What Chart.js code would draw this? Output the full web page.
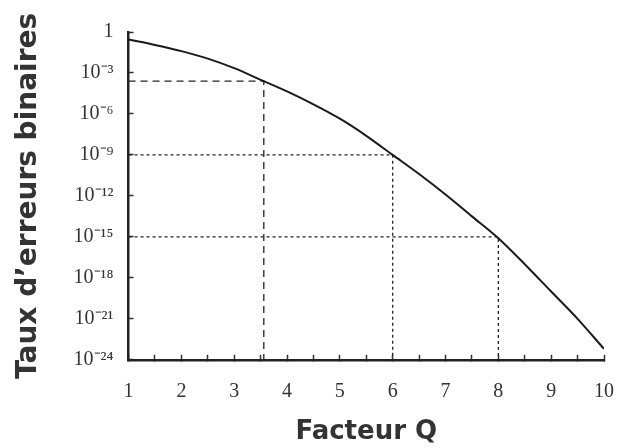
<!DOCTYPE html>
<html>
<head>
<meta charset="utf-8">
<script src="https://cdn.jsdelivr.net/npm/chart.js@4.4.1/dist/chart.umd.min.js"></script>
<style>
  html, body { margin: 0; padding: 0; background: #fff; }
  #graph { display: block; }
</style>
</head>
<body>
<canvas id="graph" width="618" height="448"></canvas>
<script>
// facteur Q et log10 du taux d'erreurs
const qValues = [1, 1.5, 2, 2.5, 3, 3.5, 4, 4.5, 5, 5.5, 6, 6.5, 7, 7.5, 8, 8.5, 9, 9.5, 10];
const berExponents = [-0.55, -0.95, -1.4, -1.95, -2.65, -3.5, -4.35, -5.3, -6.35, -7.6, -9.0, -10.4, -11.9, -13.5, -15.1, -17.0, -19.0, -21.0, -23.2];

// points de lecture (pointillés)
const guideQ = [3.56, 6, 8];
const guideExponents = [-3.6, -9, -15];

const yTickExponents = [0, -3, -6, -9, -12, -15, -18, -21, -24];
const yTickLabels = ['1', '10⁻³', '10⁻⁶', '10⁻⁹', '10⁻¹²', '10⁻¹⁵', '10⁻¹⁸', '10⁻²¹', '10⁻²⁴'];

const curve = qValues.map((q, i) => ({x: q, y: Math.pow(10, berExponents[i])}));

const guides = guideQ.map((q, i) => {
  const y = Math.pow(10, guideExponents[i]);
  return {
    data: [{x: 1, y: y}, {x: q, y: y}, {x: q, y: 1e-24}],
    borderColor: '#222',
    borderWidth: 1.3,
    borderDash: i == 0 ? [7, 5] : [3, 3],
    pointRadius: 0,
    tension: 0
  };
});

let ctx = document.getElementById('graph').getContext('2d');
let chart = new Chart(ctx, {
  type: 'line',
  data: {
    datasets: [{
      data: curve,
      borderColor: '#1a1a1a',
      borderWidth: 2,
      pointRadius: 0,
      cubicInterpolationMode: 'monotone'
    }].concat(guides)
  },
  options: {
    responsive: false,
    animation: false,
    layout: { padding: { left: 12, right: 4, top: 25, bottom: 0 } },
    plugins: {
      legend: { display: false },
      tooltip: { enabled: false }
    },
    scales: {
      x: {
        type: 'linear',
        min: 1,
        max: 10,
        ticks: {
          stepSize: 0.5,
          autoSkip: false,
          maxRotation: 0,
          padding: 4,
          color: '#333',
          font: { family: 'Liberation Serif', size: 20, lineHeight: 1.1 },
          // ligne vide pour descendre les libellés sous l'axe
          callback: v => Number.isInteger(v) ? ['', String(v)] : ''
        },
        grid: { drawOnChartArea: false, tickLength: -5, color: '#333', tickWidth: 1.5 },
        border: { color: '#222', width: 2.5 },
        title: {
          display: true,
          text: 'Facteur Q',
          color: '#333',
          font: { family: 'DejaVu Sans', size: 26, weight: 'bold' },
          padding: { top: 10, bottom: 0 }
        }
      },
      y: {
        type: 'logarithmic',
        min: 1e-24,
        max: 1,
        afterBuildTicks: axis => {
          axis.ticks = yTickExponents.map(e => ({value: Math.pow(10, e)}));
        },
        ticks: {
          padding: 20,
          color: '#333',
          font: { family: 'Liberation Serif', size: 20 },
          callback: (v, i) => yTickLabels[i]
        },
        grid: { drawOnChartArea: false, tickLength: -5, color: '#333', tickWidth: 1.5 },
        border: { color: '#222', width: 2.5 },
        title: {
          display: true,
          text: 'Taux d’erreurs binaires',
          color: '#333',
          font: { family: 'DejaVu Sans', size: 28, weight: 'bold' },
          padding: { top: 0, bottom: 8 }
        }
      }
    }
  }
});
</script>
</body>
</html>
